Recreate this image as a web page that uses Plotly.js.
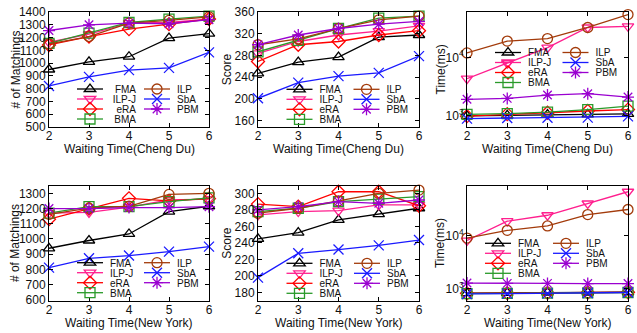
<!DOCTYPE html>
<html>
<head>
<meta charset="utf-8">
<script src="https://cdn.plot.ly/plotly-3.0.1.min.js"></script>
<style>
html,body{margin:0;padding:0;background:#fff;}
#chart{width:637px;height:333px;}
</style>
</head>
<body>
<div id="chart"></div>
<script>
// ---------------- data ----------------
const waitingTimes = [2, 3, 4, 5, 6];
const methods = ['FMA', 'ILP-J', 'eRA', 'BMA', 'ILP', 'SbA', 'PBM'];

// rows follow the order of `methods`
const matchingsChengDu = [
  [950, 1010, 1050, 1195, 1230],
  [1163, 1226, 1313, 1318, 1345],
  [1142, 1208, 1266, 1305, 1345],
  [1155, 1234, 1318, 1345, 1368],
  [1150, 1208, 1313, 1334, 1362],
  [821, 892, 945, 963, 1084],
  [1255, 1300, 1313, 1308, 1340]
];
const scoreChengDu = [
  [247, 268, 277, 314, 318],
  [284, 306, 318, 325, 335],
  [269, 300, 306, 318, 326],
  [287, 308, 330, 349, 353],
  [300, 311, 330, 346, 353],
  [201, 230, 242, 248, 279],
  [300, 318, 330, 338, 343]
];
const timeChengDu = [
  [980, 1000, 1030, 1040, 1060],
  [4300, 7900, 14700, 32600, 34200],
  [970, 1050, 1110, 1190, 1260],
  [1040, 1070, 1140, 1260, 1440],
  [11900, 19000, 21000, 32600, 54400],
  [880, 900, 910, 915, 960],
  [1890, 1960, 2240, 2360, 2070]
];
const matchingsNewYork = [
  [939, 990, 1033, 1180, 1215],
  [1170, 1175, 1210, 1256, 1262],
  [1130, 1200, 1267, 1250, 1265],
  [1170, 1212, 1212, 1245, 1270],
  [1162, 1202, 1215, 1293, 1300],
  [812, 873, 891, 917, 950],
  [1200, 1200, 1206, 1206, 1212]
];
const scoreNewYork = [
  [245, 252.5, 268, 275, 282],
  [274, 278, 279, 286, 286],
  [287, 284, 302, 302, 285],
  [278, 282, 290, 293, 296],
  [276, 282, 291, 300, 304],
  [198, 227.5, 232, 237, 243.5],
  [280, 284, 290, 288, 292]
];
const timeNewYork = [
  [830, 840, 850, 850, 860],
  [8000, 18400, 23800, 39500, 65600],
  [820, 830, 840, 850, 860],
  [810, 820, 830, 840, 850],
  [8900, 12400, 15000, 24500, 30500],
  [800, 810, 820, 830, 850],
  [1280, 1260, 1260, 1250, 1250]
];

const xTitles = ['Waiting Time(Cheng Du)', 'Waiting Time(Cheng Du)', 'Waiting Time(Cheng Du)',
                 'Waiting Time(New York)', 'Waiting Time(New York)', 'Waiting Time(New York)'];
const yTitles = ['# of Matchings', 'Score', 'Time(ms)', '# of Matchings', 'Score', 'Time(ms)'];
const logTickVals = [1000, 10000];
const logTickText = ['10<sup>3</sup>', '10<sup>4</sup>'];

// ---------------- styles ----------------
const colors = ['#000000', '#ff1f8e', '#ff0000', '#2a9a2a', '#a33b0b', '#1a1aff', '#9a00d0'];
const symbols = ['triangle-up-open', 'triangle-down-open', 'diamond-open', 'square-open',
                 'circle-open', 'x-thin-open', 'asterisk-open'];
const FONT = '"Liberation Sans", Arial, Helvetica, sans-serif';
const W = 637, H = 333;
const colPx = [[49, 209], [258, 419], [467, 628]];
const rowPx = [[12, 127], [185.7, 300.5]];
const yTitleX = [15, 226.7, 440];
const xTitleGap = [22, 22.5];

const panels = [
  {series: matchingsChengDu, type: 'linear', range: [500, 1400], dtick: 100},
  {series: scoreChengDu, type: 'linear', range: [148, 360.5], tickvals: [160, 200, 240, 280, 320, 360]},
  {series: timeChengDu, type: 'log', range: [2.8, 4.78]},
  {series: matchingsNewYork, type: 'linear', range: [596, 1350], dtick: 100},
  {series: scoreNewYork, type: 'linear', range: [170.3, 309.3], tickvals: [180, 200, 220, 240, 260, 280, 300]},
  {series: timeNewYork, type: 'log', range: [2.78, 4.93]}
];

// legend placement (pixels): col sample centre, text right edge, first row centre
const legendPlace = [
  {c1: 90, r1: 136, c2: 157, r2: 207, y: 89},
  {c1: 299.5, r1: 346.5, c2: 366.5, r2: 414, y: 89.3},
  {c1: 508, r1: 555, c2: 575.5, r2: 624, y: 52.5},
  {c1: 90, r1: 135, c2: 157, r2: 207, y: 262.7},
  {c1: 299.5, r1: 346.5, c2: 367, r2: 414.5, y: 263.3},
  {c1: 498, r1: 537, c2: 566, r2: 624, y: 243.3}
];

const data = [];
const annotations = [];
const layout = {
  width: W, height: H,
  margin: {l: 0, r: 0, t: 0, b: 0},
  paper_bgcolor: '#ffffff', plot_bgcolor: '#ffffff',
  font: {family: FONT, size: 12, color: '#111'},
  showlegend: true,
  annotations: annotations
};
const legendSpecs = [];

panels.forEach((p, k) => {
  const sfx = k === 0 ? '' : String(k + 1);
  const row = Math.floor(k / 3), col = k % 3;
  const leftLeg = 'legend' + (2 * k === 0 ? '' : String(2 * k + 1));
  const rightLeg = 'legend' + String(2 * k + 2);

  p.series.forEach((vals, m) => {
    data.push({
      x: waitingTimes, y: vals,
      xaxis: 'x' + sfx, yaxis: 'y' + sfx,
      type: 'scatter', mode: 'lines+markers',
      name: methods[m],
      legend: m < 4 ? leftLeg : rightLeg,
      cliponaxis: false,
      line: {color: colors[m], width: 1.3},
      marker: {symbol: symbols[m], size: 10, color: colors[m], line: {color: colors[m], width: 1.3}}
    });
  });

  const common = {
    showline: true, mirror: 'ticks', linecolor: '#000', linewidth: 1,
    ticks: 'inside', ticklen: 4, tickcolor: '#000', tickwidth: 1,
    showgrid: false, zeroline: false,
    tickfont: {family: FONT, size: 12, color: '#111'}
  };
  layout['xaxis' + sfx] = Object.assign({}, common, {
    domain: [colPx[col][0] / W, colPx[col][1] / W],
    anchor: 'y' + sfx,
    range: [2, 6], tickvals: waitingTimes
  });
  const ya = Object.assign({}, common, {
    domain: [1 - rowPx[row][1] / H, 1 - rowPx[row][0] / H],
    anchor: 'x' + sfx,
    type: p.type, range: p.range
  });
  if (p.type === 'log') { ya.tickvals = logTickVals; ya.ticktext = logTickText; }
  else if (p.tickvals) { ya.tickvals = p.tickvals; }
  else { ya.dtick = p.dtick; ya.tick0 = 0; }
  layout['yaxis' + sfx] = ya;

  // axis titles
  annotations.push({
    xref: 'paper', yref: 'paper',
    x: (colPx[col][0] + colPx[col][1]) / 2 / W,
    y: 1 - (rowPx[row][1] + xTitleGap[row]) / H,
    xanchor: 'center', yanchor: 'middle', showarrow: false,
    text: xTitles[k], font: {family: FONT, size: 12, color: '#111'}
  });
  annotations.push({
    xref: 'paper', yref: 'paper',
    x: yTitleX[col] / W,
    y: 1 - (rowPx[row][0] + rowPx[row][1]) / 2 / H,
    xanchor: 'center', yanchor: 'middle', showarrow: false, textangle: -90,
    text: yTitles[k], font: {family: FONT, size: 12, color: '#111'}
  });

  const lg = {x: 0, y: 1, xanchor: 'left', yanchor: 'top', bgcolor: 'rgba(0,0,0,0)',
              borderwidth: 0, font: {family: FONT, size: 10, color: '#111'},
              tracegroupgap: 0, itemwidth: 30, orientation: 'v'};
  layout[leftLeg] = Object.assign({}, lg);
  layout[rightLeg] = Object.assign({}, lg);
  const lp = legendPlace[k];
  legendSpecs.push({id: leftLeg, cx: lp.c1, right: lp.r1, y: lp.y});
  legendSpecs.push({id: rightLeg, cx: lp.c2, right: lp.r2, y: lp.y});
});

const gd = document.getElementById('chart');

function fixLegends() {
  legendSpecs.forEach(spec => {
    const g = gd.querySelector('g.' + spec.id);
    if (!g) return;
    const gx = spec.cx - 20;
    g.setAttribute('transform', 'translate(' + gx + ',' + spec.y + ')');
    g.querySelectorAll('.scrollbox').forEach(s => { s.removeAttribute('clip-path'); s.setAttribute('transform', 'translate(0,0)'); });
    g.querySelectorAll('rect.bg').forEach(r => { r.style.display = 'none'; });
    g.querySelectorAll('rect.scrollbar').forEach(r => { r.style.display = 'none'; });
    g.querySelectorAll('g.groups').forEach(gr => gr.setAttribute('transform', 'translate(0,0)'));
    g.querySelectorAll('g.traces').forEach((t, i) => {
      t.setAttribute('transform', 'translate(0,' + (i * 10) + ')');
      const txt = t.querySelector('text.legendtext');
      if (txt) {
        txt.setAttribute('text-anchor', 'end');
        txt.setAttribute('x', spec.right - gx);
        txt.querySelectorAll('tspan').forEach(ts => { if (ts.hasAttribute('x')) ts.setAttribute('x', spec.right - gx); });
      }
      t.querySelectorAll('path.js-line').forEach(pth => pth.setAttribute('d', 'M7,0h26'));
    });
  });
  // lift x tick labels slightly, as in the reference
  gd.querySelectorAll('g.xaxislayer-above > g').forEach(t => t.setAttribute('transform', 'translate(0,-2)'));
}

Plotly.newPlot(gd, data, layout, {staticPlot: true, displayModeBar: false}).then(fixLegends);
</script>
</body>
</html>
